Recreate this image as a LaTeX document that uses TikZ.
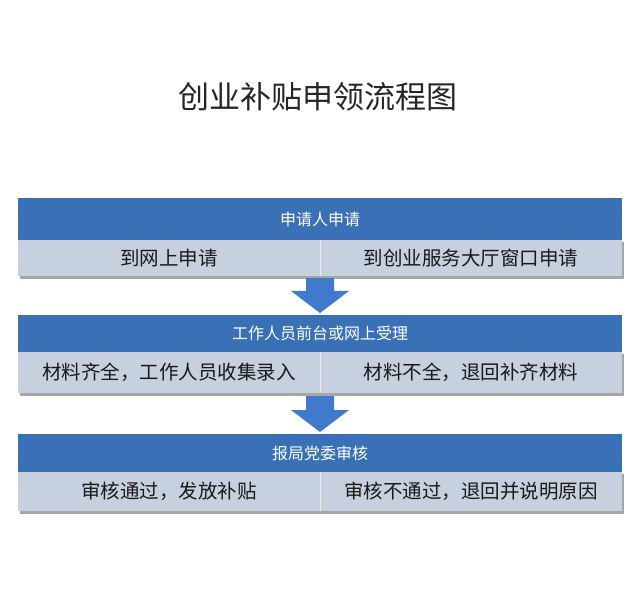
\documentclass[tikz,border=0pt]{standalone}
\usepackage{fontspec}
\newfontfamily\cjk{Noto Sans CJK SC}
\definecolor{hdr}{HTML}{3A70B6}
\definecolor{rowc}{HTML}{C6D0DF}
\definecolor{arr}{HTML}{3F7ACB}
\begin{document}
\begin{tikzpicture}[x=1pt,y=-1pt,font=\cjk,
 hd/.style={fill=hdr,draw=none,text=white,font=\cjk\fontsize{16}{18}\selectfont},
 rw/.style={fill=rowc,draw=none,text=black!90,font=\cjk\fontsize{19.5}{22}\selectfont},
 ar/.style={fill=arr,draw=none}]
\useasboundingbox (0,0) rectangle (640,612);
\node[font=\cjk\fontsize{31}{36}\selectfont,text=black!85] (title) at (318,97) {创业补贴申领流程图};
\foreach \i/\t/\b/\h/\H/\l/\r in {1/198/240/276/申请人申请/到网上申请/到创业服务大厅窗口申请,
  2/315/352/393/工作人员前台或网上受理/{材料齐全，工作人员收集录入}/{材料不全，退回补齐材料},
  3/434/472/511/报局党委审核/{审核通过，发放补贴}/{审核不通过，退回并说明原因}}{
 \fill[black!35] (20,\b+2) rectangle (624,\h+3);
 \node[hd,minimum width=604pt,minimum height=\b-\t,inner sep=0pt] (h\i) at (320,{(\t+\b)/2}) {\H};
 \node[rw,minimum width=302pt,minimum height=\h-\b,inner sep=0pt] (l\i) at (169,{(\b+\h)/2}) {\l};
 \node[rw,minimum width=302pt,minimum height=\h-\b,inner sep=0pt] (r\i) at (471,{(\b+\h)/2}) {\r};
 \draw[white!85!gray,line width=1pt] (l\i.north east) -- (l\i.south east);
}
\foreach \a/\t/\s in {1/278/291,2/396/410}{
 \fill[ar] (306,\t) -- (334,\t) -- (334,\s) -- (349,\s) -- (320,\s+22) -- (291,\s) -- (306,\s) -- cycle;
}
\end{tikzpicture}
\end{document}
